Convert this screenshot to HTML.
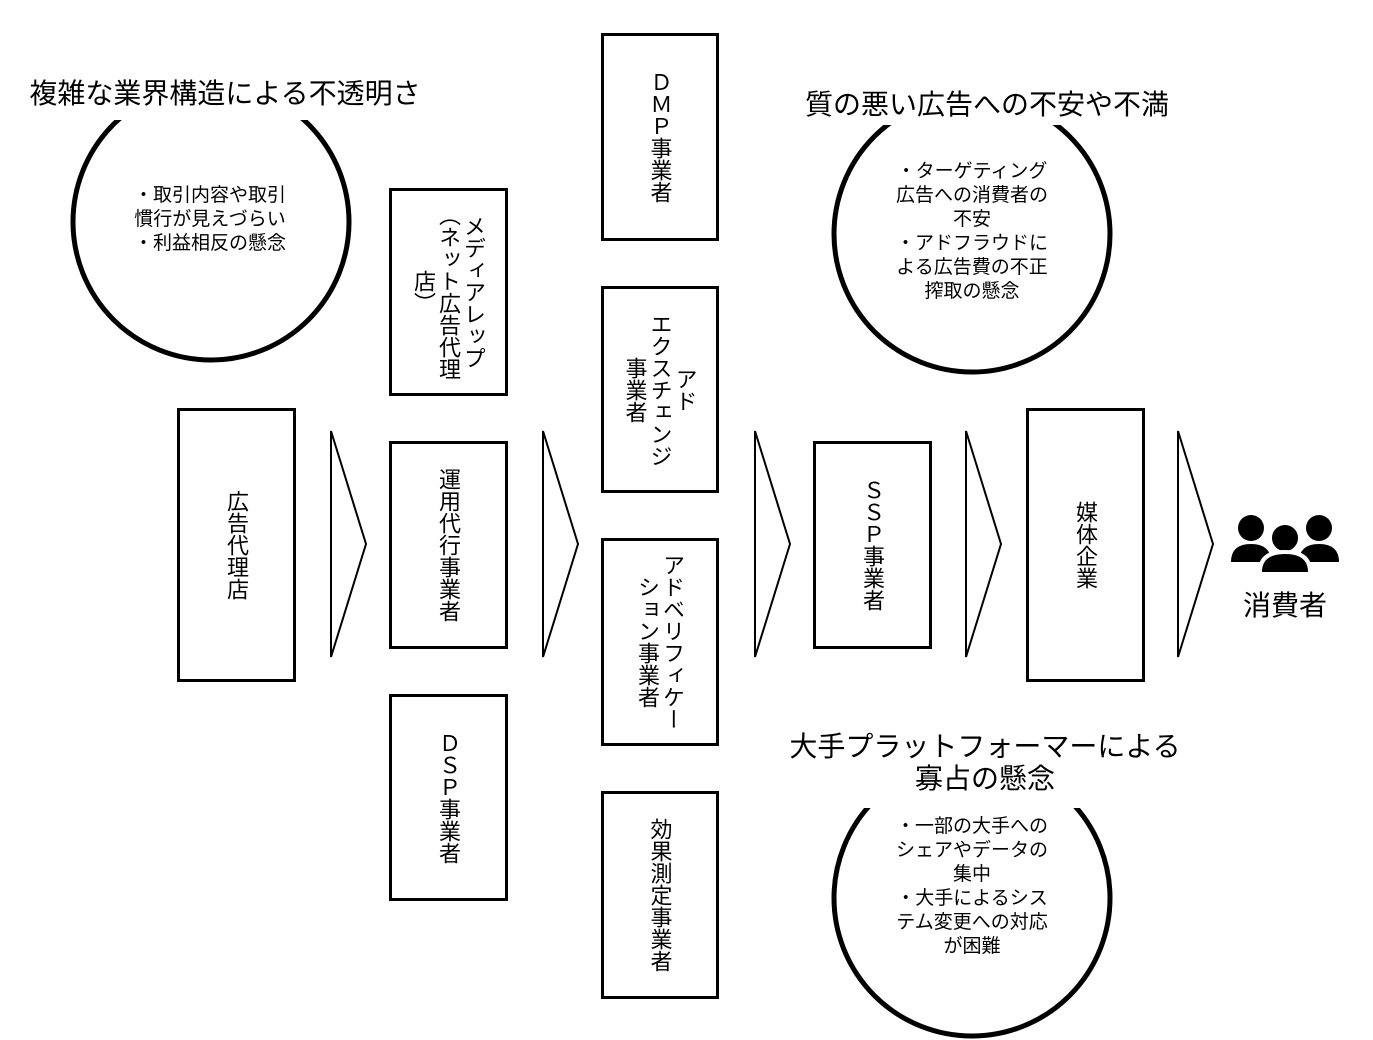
<!DOCTYPE html>
<html><head><meta charset="utf-8"><style>
body{margin:0;width:1373px;height:1040px;background:#fff;position:relative;overflow:hidden;font-family:"Liberation Sans","Noto Sans CJK JP",sans-serif;color:#000}
.b{position:absolute;border:3px solid #000;box-sizing:border-box;display:flex;align-items:center;justify-content:center;background:#fff}
.v{writing-mode:vertical-rl;font-size:22px;line-height:25px;text-align:center}
.t{position:absolute;font-size:28px;text-align:center;background:#fff;line-height:32px;white-space:nowrap}
.c{position:absolute;font-size:19px;line-height:24px;text-align:center}
</style></head><body>
<svg width="1373" height="1040" style="position:absolute;left:0;top:0">
<g fill="none" stroke="#000" stroke-width="5">
<circle cx="211" cy="222" r="138"/>
<circle cx="972" cy="234" r="138"/>
<circle cx="972" cy="898" r="138"/>
</g>
<g fill="none" stroke="#000" stroke-width="2">
<path d="M331 431 L366 544 L331 657 Z"/>
<path d="M543 431 L578 544 L543 657 Z"/>
<path d="M755 431 L790 544 L755 657 Z"/>
<path d="M966 431 L1001 544 L966 657 Z"/>
<path d="M1178 431 L1213 544 L1178 657 Z"/>
</g>
<g fill="#000">
<circle cx="1251" cy="528" r="13"/>
<circle cx="1319" cy="528" r="13"/>
<path d="M1231 562 Q1231 544 1251 544 Q1271 544 1271 562 Z"/>
<path d="M1299 562 Q1299 544 1319 544 Q1339 544 1339 562 Z"/>
<circle cx="1285" cy="538" r="15" stroke="#fff" stroke-width="4"/>
<path d="M1260 574 L1260 572 Q1260 552 1285 552 Q1310 552 1310 572 L1310 574 Z" stroke="#fff" stroke-width="4"/>
</g>
</svg>
<div class="t" style="left:10px;top:78px;width:430px;height:42px">複雑な業界構造による不透明さ</div>
<div class="t" style="left:780px;top:89px;width:414px;height:36px">質の悪い広告への不安や不満</div>
<div class="t" style="left:760px;top:731px;width:450px;height:77px">大手プラットフォーマーによる<br>寡占の懸念</div>
<div class="c" style="left:90px;top:184px;width:240px">・取引内容や取引<br>慣行が見えづらい<br>・利益相反の懸念</div>
<div class="c" style="left:852px;top:160px;width:240px">・ターゲティング<br>広告への消費者の<br>不安<br>・アドフラウドに<br>よる広告費の不正<br>搾取の懸念</div>
<div class="c" style="left:852px;top:815px;width:240px">・一部の大手への<br>シェアやデータの<br>集中<br>・大手によるシス<br>テム変更への対応<br>が困難</div>
<div class="b" style="left:177px;top:408px;width:119px;height:274px"><div class="v">広告代理店</div></div>
<div class="b" style="left:389px;top:188px;width:119px;height:208px"><div class="v" style="height:176px">メディアレップ（ネット広告代理店）</div></div>
<div class="b" style="left:389px;top:441px;width:119px;height:208px"><div class="v">運用代行事業者</div></div>
<div class="b" style="left:389px;top:694px;width:119px;height:207px"><div class="v">ＤＳＰ事業者</div></div>
<div class="b" style="left:601px;top:33px;width:118px;height:208px"><div class="v">ＤＭＰ事業者</div></div>
<div class="b" style="left:601px;top:286px;width:118px;height:207px"><div class="v">アド<br>エクスチェンジ<br>事業者</div></div>
<div class="b" style="left:601px;top:538px;width:118px;height:208px"><div class="v" style="height:176px">アドベリフィケーション事業者</div></div>
<div class="b" style="left:601px;top:791px;width:118px;height:208px"><div class="v">効果測定事業者</div></div>
<div class="b" style="left:813px;top:441px;width:119px;height:208px"><div class="v">ＳＳＰ事業者</div></div>
<div class="b" style="left:1026px;top:408px;width:119px;height:274px"><div class="v">媒体企業</div></div>
<div class="t" style="left:1225px;top:590px;width:120px;background:none">消費者</div>
</body></html>
